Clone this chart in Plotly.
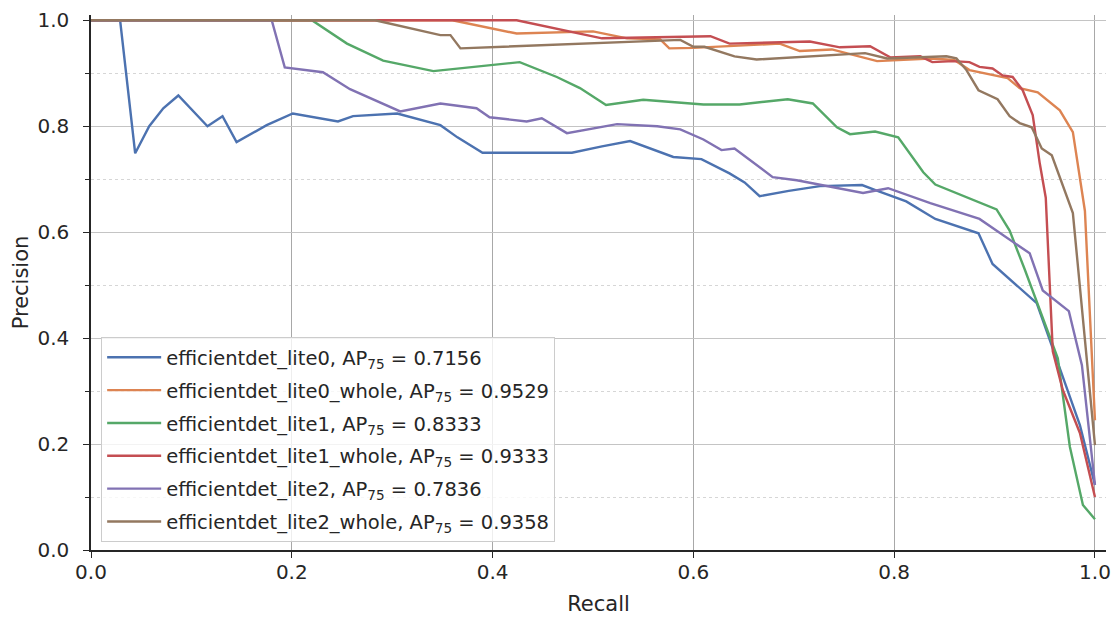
import plotly.graph_objects as go

names = ["efficientdet_lite0", "efficientdet_lite0_whole", "efficientdet_lite1",
         "efficientdet_lite1_whole", "efficientdet_lite2", "efficientdet_lite2_whole"]
ap75 = [0.7156, 0.9529, 0.8333, 0.9333, 0.7836, 0.9358]

lite0_r = [0, 0.029, 0.044, 0.058, 0.072, 0.087, 0.116, 0.131, 0.145, 0.175, 0.201, 0.246, 0.261, 0.305,
           0.348, 0.365, 0.39, 0.479, 0.509, 0.537, 0.58, 0.608, 0.636, 0.651, 0.666, 0.695, 0.726, 0.768,
           0.782, 0.812, 0.841, 0.884, 0.898, 0.942, 0.985, 1.0]
lite0_p = [1, 1, 0.749, 0.8, 0.834, 0.858, 0.8, 0.819, 0.77, 0.802, 0.824, 0.809, 0.819, 0.824,
           0.802, 0.779, 0.75, 0.75, 0.762, 0.772, 0.742, 0.738, 0.711, 0.694, 0.668, 0.678, 0.687, 0.689,
           0.679, 0.658, 0.625, 0.598, 0.54, 0.466, 0.236, 0.123]

lite0w_r = [0, 0.36, 0.424, 0.5, 0.534, 0.567, 0.576, 0.6, 0.686, 0.706, 0.738, 0.753, 0.783, 0.836,
            0.86, 0.875, 0.913, 0.925, 0.943, 0.965, 0.978, 0.99, 1.0]
lite0w_p = [1, 1, 0.975, 0.979, 0.966, 0.964, 0.947, 0.948, 0.956, 0.942, 0.945, 0.938, 0.923, 0.928,
            0.925, 0.906, 0.891, 0.872, 0.864, 0.83, 0.789, 0.64, 0.245]

lite1_r = [0, 0.22, 0.255, 0.291, 0.341, 0.427, 0.464, 0.487, 0.513, 0.55, 0.61, 0.646, 0.694, 0.719,
           0.743, 0.756, 0.781, 0.804, 0.829, 0.841, 0.902, 0.915, 0.93, 0.948, 0.963, 0.975, 0.988, 1.0]
lite1_p = [1, 1, 0.956, 0.924, 0.904, 0.921, 0.893, 0.872, 0.84, 0.85, 0.841, 0.841, 0.851, 0.843,
           0.798, 0.785, 0.79, 0.779, 0.713, 0.69, 0.643, 0.603, 0.53, 0.44, 0.362, 0.195, 0.085, 0.058]

lite1w_r = [0, 0.424, 0.509, 0.587, 0.617, 0.636, 0.716, 0.746, 0.776, 0.796, 0.826, 0.838, 0.859,
            0.875, 0.885, 0.898, 0.908, 0.918, 0.928, 0.938, 0.945, 0.951, 0.958, 0.968, 0.985, 1.0]
lite1w_p = [1, 1, 0.966, 0.968, 0.97, 0.956, 0.96, 0.949, 0.951, 0.93, 0.932, 0.921, 0.923,
            0.921, 0.912, 0.909, 0.896, 0.893, 0.868, 0.821, 0.73, 0.665, 0.375, 0.302, 0.221, 0.1]

lite2_r = [0, 0.18, 0.193, 0.231, 0.258, 0.288, 0.308, 0.348, 0.384, 0.397, 0.434, 0.449, 0.474, 0.524,
           0.564, 0.587, 0.61, 0.628, 0.641, 0.679, 0.703, 0.769, 0.794, 0.836, 0.885, 0.935, 0.948,
           0.974, 0.987, 1.0]
lite2_p = [1, 1, 0.911, 0.902, 0.87, 0.845, 0.828, 0.843, 0.834, 0.817, 0.809, 0.815, 0.787, 0.804,
           0.8, 0.794, 0.775, 0.755, 0.758, 0.704, 0.698, 0.674, 0.683, 0.655, 0.625, 0.56, 0.49,
           0.451, 0.349, 0.123]

lite2w_r = [0, 0.283, 0.348, 0.358, 0.368, 0.587, 0.6, 0.611, 0.641, 0.663, 0.771, 0.793, 0.852, 0.862,
            0.872, 0.884, 0.903, 0.915, 0.925, 0.937, 0.947, 0.957, 0.978, 1.0]
lite2w_p = [1, 1, 0.972, 0.972, 0.947, 0.963, 0.95, 0.95, 0.932, 0.926, 0.938, 0.928, 0.932, 0.928,
            0.906, 0.868, 0.851, 0.819, 0.806, 0.798, 0.758, 0.745, 0.636, 0.198]

recalls = [lite0_r, lite0w_r, lite1_r, lite1w_r, lite2_r, lite2w_r]
precisions = [lite0_p, lite0w_p, lite1_p, lite1w_p, lite2_p, lite2w_p]
colors = ["#4C72B0", "#DD8452", "#55A868", "#C44E52", "#8172B3", "#937860"]

x_ticks = [0.0, 0.2, 0.4, 0.6, 0.8, 1.0]
y_ticks = [0.0, 0.2, 0.4, 0.6, 0.8, 1.0]

fig = go.Figure()
for i in range(len(names)):
    fig.add_trace(go.Scatter(
        x=recalls[i], y=precisions[i], mode="lines",
        line=dict(color=colors[i], width=2.4),
        name=f"{names[i]}, AP<sub>75</sub> = {ap75[i]:.4f}",
        legendgroup=f"g{i}",
    ))

txt = "#262626"
fig.update_layout(
    width=1120, height=621,
    margin=dict(l=91, r=14, t=15, b=71),
    plot_bgcolor="white", paper_bgcolor="white",
    font=dict(family="DejaVu Sans", size=20, color=txt),
    showlegend=True,
    legend=dict(
        x=0.01, y=0.398, xanchor="left", yanchor="top",
        bgcolor="rgba(255,255,255,0.8)", bordercolor="#cccccc", borderwidth=1,
        font=dict(family="DejaVu Sans", size=19.5, color=txt),
        tracegroupgap=4.5, traceorder="grouped", itemwidth=54,
    ),
    xaxis=dict(
        range=[0, 1.011], tickvals=x_ticks, ticktext=[f"{v:.1f}" for v in x_ticks],
        showgrid=True, gridcolor="#a8a8a8", gridwidth=1,
        showline=True, linecolor=txt, linewidth=1.5,
        ticks="outside", ticklen=6, tickwidth=1.3, tickcolor=txt,
        zeroline=False, automargin=False, ticklabelstandoff=-3,
        tickfont=dict(size=20),
        title=dict(text="Recall", standoff=14, font=dict(size=21)),
    ),
    yaxis=dict(
        range=[0, 1.01], tickvals=y_ticks, ticktext=[f"{v:.1f}" for v in y_ticks],
        showgrid=True, gridcolor="#c4c4c4", gridwidth=1.2,
        showline=True, linecolor=txt, linewidth=1.5,
        ticks="outside", ticklen=6, tickwidth=1.3, tickcolor=txt,
        zeroline=False, automargin=False, ticklabelstandoff=10,
        tickfont=dict(size=20),
        minor=dict(dtick=0.1, tick0=0, showgrid=True, gridcolor="#d6d6d6", griddash="dot",
                   gridwidth=1, ticks="outside", ticklen=4, tickcolor=txt, tickwidth=1),
        title=dict(text="Precision", standoff=3, font=dict(size=21)),
    ),
)

fig.write_html("out.html", config={"displayModeBar": False},
               post_script="document.body.style.margin='0';")
